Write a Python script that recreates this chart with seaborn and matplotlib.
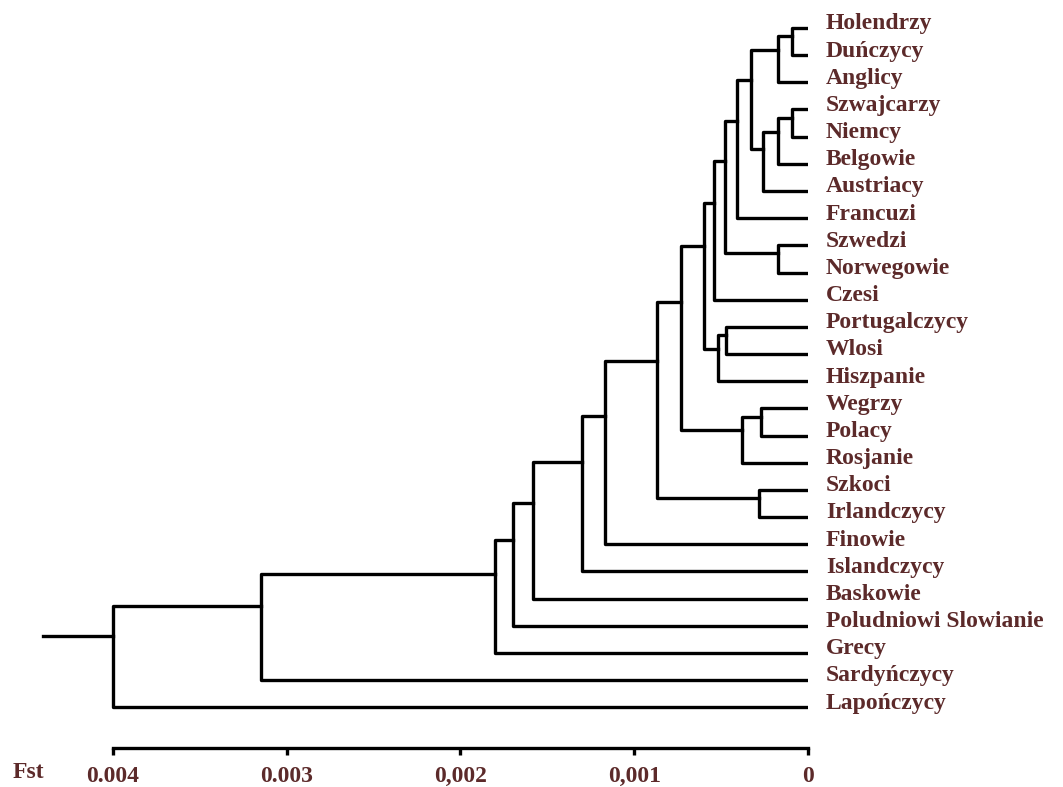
import matplotlib
matplotlib.use("Agg")
import numpy as np
import pandas as pd
import matplotlib.pyplot as plt
import seaborn as sns

# liscie drzewa (od gory)
leaves = ["Holendrzy", "Duńczycy", "Anglicy", "Szwajcarzy", "Niemcy", "Belgowie",
          "Austriacy", "Francuzi", "Szwedzi", "Norwegowie", "Czesi", "Portugalczycy",
          "Wlosi", "Hiszpanie", "Wegrzy", "Polacy", "Rosjanie", "Szkoci", "Irlandczycy",
          "Finowie", "Islandczycy", "Baskowie", "Poludniowi Slowianie", "Grecy",
          "Sardyńczycy", "Lapończycy"]

# polaczenia: klaster 26+k = merge_a[k] + merge_b[k] na wysokosci merge_h[k] (Fst)
merge_a = [0, 26, 3, 28, 29, 27, 31, 8, 32, 34, 11, 36, 35, 14, 39, 38, 17, 41, 43, 44,
           45, 46, 47, 48, 49]
merge_b = [1, 2, 4, 5, 6, 30, 7, 9, 33, 10, 12, 13, 37, 15, 16, 40, 18, 42, 19, 20,
           21, 22, 23, 24, 25]
merge_h = [0.00009, 0.00017, 0.00009, 0.00017, 0.00026, 0.00033, 0.00041, 0.00017,
           0.00048, 0.00054, 0.00047, 0.00052, 0.00060, 0.00027, 0.00038, 0.00073,
           0.00028, 0.00087, 0.00117, 0.00130, 0.00158, 0.00170, 0.00180, 0.00315,
           0.00400]

tick_vals = [0.004, 0.003, 0.002, 0.001, 0.0]
tick_labels = ["0.004", "0.003", "0,002", "0,001", "0"]

PARENT_FRAC = 0.3   # polozenie wezla miedzy dziecmi (jak w oryginale)
ROOT_STUB = 0.0004
TXT = "#5c2a2a"

#%% uklad drzewa
pos_x = {i: 0.0 for i in range(len(leaves))}
pos_y = {i: float(i) for i in range(len(leaves))}
rows = []
for k, (a, b, h) in enumerate(zip(merge_a, merge_b, merge_h)):
    ya, yb = pos_y[a], pos_y[b]
    top, bot = min(ya, yb), max(ya, yb)
    node = len(leaves) + k
    pos_x[node] = h
    pos_y[node] = top + PARENT_FRAC * (bot - top)
    for x, y in [(pos_x[a], ya), (h, ya), (h, yb), (pos_x[b], yb)]:
        rows.append({"seg": k, "x": x, "y": y})

root = len(leaves) + len(merge_h) - 1
for x in [pos_x[root], pos_x[root] + ROOT_STUB]:
    rows.append({"seg": len(merge_h), "x": x, "y": pos_y[root]})
segs = pd.DataFrame(rows)

#%% rysunek
sns.set_theme(style="white")
plt.rcParams['font.family'] = ['Liberation Serif', 'DejaVu Serif']
plt.rcParams['lines.solid_capstyle'] = 'projecting'

fig = plt.figure(figsize=(10.63, 7.87), dpi=100)
ax = fig.add_axes([40 / 1063, 39 / 787, 768 / 1063, 748 / 787])

sns.lineplot(data=segs, x="x", y="y", units="seg", estimator=None, sort=False,
             color="black", lw=2.4, ax=ax, legend=False)

for i, name in enumerate(leaves):
    ax.annotate(name, xy=(0, i), xytext=(13, -1), textcoords="offset points",
                va="baseline", ha="left", fontsize=17, fontweight="bold",
                color=TXT, annotation_clip=False)

ax.set_xlim(0.00442, 0)
ax.set_ylim(26.5, -1.03)
ax.set_xlabel("")
ax.set_ylabel("")
ax.set_yticks([])
ax.set_xticks(tick_vals)
ax.set_xticklabels(tick_labels, fontsize=17, fontweight="bold", color=TXT)
ax.tick_params(axis="x", bottom=True, direction="out", length=5, width=2.4,
               color="black", pad=8)
for s in ["top", "right", "left"]:
    ax.spines[s].set_visible(False)
ax.spines["bottom"].set_bounds(0, 0.004)
ax.spines["bottom"].set_linewidth(2.4)
ax.spines["bottom"].set_color("black")

fig.text(13 / 1063, 1 - 772 / 787, "Fst", va="center", ha="left",
         fontsize=17, fontweight="bold", color=TXT)

fig.savefig("out.png", dpi=100, facecolor="white")
